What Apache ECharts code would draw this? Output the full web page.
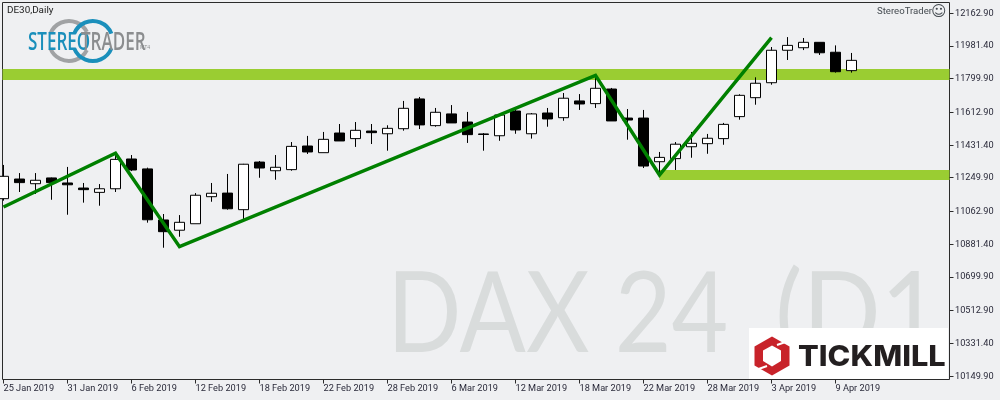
<!DOCTYPE html>
<html><head><meta charset="utf-8">
<style>html,body{margin:0;padding:0;background:#eff0f2}#c{width:1000px;height:400px}</style>
<script src="https://cdn.jsdelivr.net/npm/echarts@6/dist/echarts.min.js"></script>
</head><body><div id="c"></div>
<script>
const opens  = [11135,11244,11218,11250,11222,11194,11170,11190,11355,11300,11017,10960,10996,11146,11166,11074,11338,11290,11296,11427,11390,11499,11468,11510,11495,11523,11688,11540,11605,11560,11494,11484,11621,11495,11610,11584,11677,11662,11743,11582,11582,11340,11357,11423,11440,11468,11590,11695,11778,11958,11972,12002,11947,11845];
const closes = [11259,11224,11237,11224,11212,11185,11190,11353,11294,11018,10952,11004,11154,11165,11079,11326,11305,11309,11425,11394,11464,11455,11514,11501,11525,11636,11544,11614,11555,11490,11491,11599,11516,11605,11577,11692,11660,11747,11566,11571,11316,11364,11437,11442,11470,11547,11708,11775,11958,11985,12002,11944,11839,11902];
const lows   = [11124,11172,11161,11129,11046,11113,11096,11172,11288,11002,10863,10924,10996,11118,11074,11021,11251,11240,11290,11383,11390,11455,11422,11438,11401,11512,11521,11534,11555,11444,11401,11456,11495,11468,11534,11567,11627,11638,11566,11462,11305,11266,11294,11362,11384,11434,11573,11656,11767,11904,11959,11932,11834,11834];
const highs  = [11322,11277,11277,11252,11311,11222,11216,11387,11377,11307,11050,11044,11166,11222,11272,11328,11344,11377,11449,11483,11505,11549,11560,11549,11542,11677,11699,11638,11654,11616,11499,11605,11627,11610,11638,11721,11715,11819,11749,11632,11627,11394,11449,11505,11494,11555,11714,11808,11976,12031,12026,12002,11985,11943];
const dateLabels = ['25 Jan 2019','31 Jan 2019','6 Feb 2019','12 Feb 2019','18 Feb 2019','22 Feb 2019','28 Feb 2019','6 Mar 2019','12 Mar 2019','18 Mar 2019','22 Mar 2019','28 Mar 2019','3 Apr 2019','9 Apr 2019'];
const dateTickIndex = [0,4,8,12,16,20,24,28,32,36,40,44,48,52];
const priceTicks = [12162.9,11981.4,11799.9,11612.9,11431.4,11249.9,11062.9,10881.4,10699.9,10512.9,10331.4,10149.9];
const zigzagIndex = [0,7,11,37,41,48];
const zigzagValue = [11089,11387,10869,11819,11266,12028];
const upperBand = [11793,11854];
const lowerBand = [11239,11294];
const lowerBandStart = 41;

const xMin = -0.0625, xMax = 59.125, yMin = 10132.3, yMax = 12222.8;
const labelFont = 'Roboto';
const frameColor = '#2b2b2b';

const candles = opens.map((o,i)=>[i,o,closes[i],lows[i],highs[i]]);
const tickMarks = priceTicks.map(v=>[xMax,v]).concat(dateTickIndex.map(x=>[x,yMin]));
const chart = echarts.init(document.getElementById('c'));
const txt = (o)=>Object.assign({type:'text',silent:true,z:22},o);
chart.setOption({
  animation:false,
  backgroundColor:'#eff0f2',
  grid:{left:2.5,top:2.5,width:947,height:377,show:true,borderColor:frameColor,borderWidth:1,backgroundColor:'transparent'},
  xAxis:{type:'value',min:xMin,max:xMax,splitLine:{show:false},axisLine:{show:false,onZero:false},axisTick:{show:false},
    axisLabel:{show:true,customValues:dateTickIndex,margin:5,align:'left',color:'#2a2a3a',fontFamily:labelFont,fontSize:9.2,
      formatter:v=>dateLabels[dateTickIndex.indexOf(Math.round(v))]}},
  yAxis:{type:'value',position:'right',min:yMin,max:yMax,splitLine:{show:false},axisLine:{show:false,onZero:false},axisTick:{show:false},
    axisLabel:{show:true,customValues:priceTicks,margin:5.5,color:'#2a2a3a',fontFamily:labelFont,fontSize:9.2,
      formatter:v=>v.toFixed(2)}},
  series:[
    {type:'candlestick',data:candles,encode:{x:0,y:[1,2,3,4]},barWidth:10,z:3,
      itemStyle:{color:'#ffffff',color0:'#000000',borderColor:'#000000',borderColor0:'#000000',borderWidth:1},
      markArea:{silent:true,z:1,itemStyle:{color:'#9acd32',opacity:1},label:{show:false},data:[
        [{xAxis:xMin,yAxis:upperBand[1]},{xAxis:xMax,yAxis:upperBand[0]}],
        [{xAxis:lowerBandStart,yAxis:lowerBand[1]},{xAxis:xMax,yAxis:lowerBand[0]}]
      ]}},
    {type:'line',data:zigzagIndex.map((x,i)=>[x,zigzagValue[i]]),showSymbol:false,symbol:'none',z:5,clip:true,
      lineStyle:{color:'#008000',width:3.5,join:'miter'}},
    {type:'custom',data:tickMarks,encode:{x:0,y:1},clip:false,silent:true,z:6,
      renderItem:(params,api)=>{
        const xv=api.value(0), yv=api.value(1);
        const p=api.coord([xv,yv]);
        const isPrice=xv===xMax;
        const px=isPrice?Math.round(p[0]-0.5)+0.5:Math.floor(p[0])+0.5;
        const py=isPrice?Math.floor(p[1])+0.5:Math.round(p[1]-0.5)+0.5;
        return {type:'line',shape:isPrice?{x1:px,y1:py,x2:px+4,y2:py}:{x1:px,y1:py,x2:px,y2:py+4},
          style:{stroke:frameColor,lineWidth:1}};
      }}
  ],
  graphic:[
    txt({z:0,x:387,y:316,scaleX:0.875,style:{text:'DAX 24',x:0,y:0,verticalAlign:'middle',fontFamily:'Lato',fontSize:112,fill:'#d9dcdc'}}),
    txt({z:0,x:775,y:316,scaleX:0.92,style:{text:'(D1',x:0,y:0,verticalAlign:'middle',fontFamily:'Lato',fontSize:112,fill:'#d9dcdc'}}),
    txt({style:{text:'DE30,Daily',x:7,y:10.5,verticalAlign:'middle',fontFamily:labelFont,fontSize:9.9,fill:'#222'}}),
    txt({style:{text:'StereoTrader',x:877,y:12,verticalAlign:'middle',fontFamily:labelFont,fontSize:9.6,fill:'#444a50'}}),
    txt({style:{text:'\u263A',x:938.7,y:12.5,align:'center',verticalAlign:'middle',fontFamily:'DejaVu Sans',fontSize:15,fill:'#444a50'}}),
    {type:'arc',z:20,silent:true,shape:{cx:69,cy:41,r:20,startAngle:Math.PI*1.12,endAngle:Math.PI*1.85},style:{stroke:'#a0a2a4',lineWidth:4,fill:'none'}},
    {type:'arc',z:20,silent:true,shape:{cx:69,cy:41,r:20,startAngle:Math.PI*0.15,endAngle:Math.PI*0.88},style:{stroke:'#a0a2a4',lineWidth:4,fill:'none'}},
    {type:'arc',z:21,silent:true,shape:{cx:92.8,cy:41,r:20,startAngle:Math.PI*1.12,endAngle:Math.PI*1.88},style:{stroke:'#1a8fbb',lineWidth:4,fill:'none'}},
    {type:'arc',z:21,silent:true,shape:{cx:92.8,cy:41,r:20,startAngle:Math.PI*0.12,endAngle:Math.PI*0.88},style:{stroke:'#1a8fbb',lineWidth:4,fill:'none'}},
    txt({scaleX:0.68,x:28,y:42.5,style:{text:'STEREO',x:0,y:0,verticalAlign:'middle',fontFamily:'Open Sans',fontWeight:600,fontSize:25,fill:'#1a8fbb'}}),
    txt({scaleX:0.68,x:81,y:42.5,style:{text:'TRADER',x:0,y:0,verticalAlign:'middle',fontFamily:'Open Sans',fontWeight:600,fontSize:25,fill:'#8b8d8f'}}),
    txt({style:{text:'MT4',x:140,y:48,verticalAlign:'middle',fontFamily:'Open Sans',fontSize:5,fill:'#8b8d8f'}}),
    {type:'rect',z:20,silent:true,shape:{x:749,y:328,width:199,height:51},style:{fill:'#ffffff'}},
    {type:'polygon',z:21,silent:true,shape:{points:[[772,336.5],[789.5,346.5],[789.5,365.5],[772,375.5],[754.5,365.5],[754.5,346.5]]},style:{fill:'#c8232a'}},
    {type:'polygon',z:22,silent:true,shape:{points:[[772,345.5],[781,350.5],[781,361],[772,366.5],[763,361],[763,350.5]]},style:{fill:'#ffffff'}},
    {type:'line',z:22,silent:true,shape:{x1:777,y1:345,x2:791,y2:340},style:{stroke:'#fff',lineWidth:2}},
    {type:'line',z:22,silent:true,shape:{x1:767,y1:366,x2:753,y2:371},style:{stroke:'#fff',lineWidth:2}},
    txt({x:798,y:357,scaleX:1.06,style:{text:'TICKMILL',x:0,y:0,verticalAlign:'middle',fontFamily:'Inter',fontWeight:800,fontSize:29,fill:'#231f20'}})
  ]
});
</script></body></html>
